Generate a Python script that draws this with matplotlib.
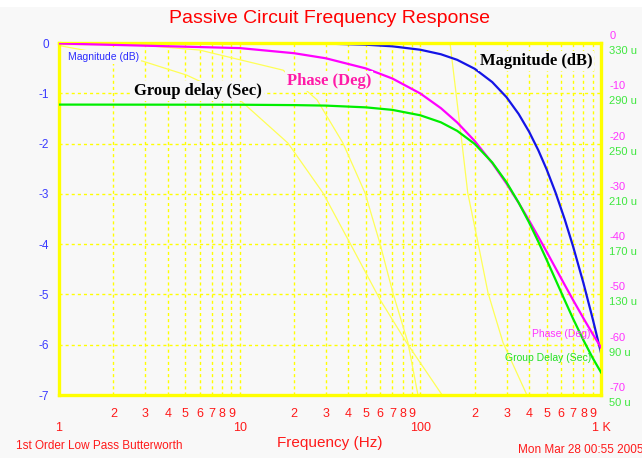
import matplotlib
matplotlib.use('Agg')
import matplotlib.pyplot as plt
import matplotlib.transforms as mtransforms
from matplotlib.patches import Rectangle

# Data (1st order low pass, fc ~ 565 Hz)
freq = [1, 10, 20, 30, 50, 70, 100, 130, 160, 200, 250, 300, 350, 400,
        450, 500, 560, 630, 700, 800, 900, 1000]
magnitude_db = [0.0, -0.001, -0.005, -0.012, -0.034, -0.066, -0.134, -0.224,
                -0.335, -0.513, -0.777, -1.078, -1.411, -1.765, -2.134,
                -2.512, -2.972, -3.509, -4.04, -4.778, -5.488, -6.163]
phase_deg = [-0.1, -1.01, -2.03, -3.04, -5.06, -7.06, -10.04, -12.96, -15.81,
             -19.49, -23.87, -27.97, -31.78, -35.3, -38.54, -41.5, -44.75,
             -48.12, -51.09, -54.76, -57.88, -60.54]
group_delay_us = [281.0, 280.9, 280.6, 280.2, 278.8, 276.8, 272.5, 266.9,
                  260.1, 249.7, 235.0, 219.2, 203.0, 187.2, 171.9, 157.6,
                  141.8, 125.3, 110.8, 93.5, 79.4, 68.0]

# faint yellow traces left on the screen (in dB units)
ghost_a_f = [1, 2.9, 5.1, 10, 18.5, 28.9, 40.8, 60, 84, 132]
ghost_a_db = [-0.05, -0.36, -0.64, -1.13, -1.99, -2.98, -3.98, -5.11, -5.96, -7.0]
ghost_b_f = [1, 3, 6, 17.4, 26.8, 37.3, 49.4, 59.7, 70.5, 85.4, 97]
ghost_b_db = [0.0, -0.05, -0.14, -0.54, -1.13, -1.99, -2.98, -3.98, -4.97, -5.96, -7.0]
ghost_c_f = [146, 157.5, 170, 183, 206, 237, 287, 389]
ghost_c_db = [0.0, -0.99, -1.99, -2.98, -3.88, -4.97, -5.96, -7.0]

# Axis ticks
mag_ticks = [0, -1, -2, -3, -4, -5, -6, -7]
phase_ticks = [0, -10, -20, -30, -40, -50, -60, -70]
delay_ticks = [330, 290, 250, 210, 170, 130, 90, 50]
major_f = [1, 10, 100, 1000]
major_labels = ['1', '10', '100', '1 K']
minor_digits = [2, 3, 4, 5, 6, 7, 8, 9]

bg = '#f8f8f8'
yellow = '#ffff00'
red = '#ff1a1a'
narrow = ['Liberation Sans Narrow', 'Liberation Sans', 'DejaVu Sans']
sans = ['Liberation Sans', 'DejaVu Sans']
serif = ['Liberation Serif', 'DejaVu Serif']

fig = plt.figure(figsize=(6.42, 4.58), dpi=100, facecolor=bg)
fig.patches.append(Rectangle((0, 1 - 7 / 458), 1, 7 / 458, transform=fig.transFigure,
                             facecolor='white', edgecolor='none', zorder=0))
ax = fig.add_axes([59 / 642, 1 - 395 / 458, 542 / 642, 352 / 458])
ax.set_facecolor(bg)
ax.set_xscale('log')
ax.set_xlim(1, 1000)
ax.set_ylim(-7, 0)

# grid
minor_f = [d * m for m in [1, 10, 100] for d in minor_digits]
for f in minor_f + [10, 100]:
    ax.axvline(f, color=yellow, lw=1, ls=(0, (2.2, 2.2)), zorder=1)
for v in mag_ticks[1:-1]:
    ax.axhline(v, color=yellow, lw=1, ls=(0, (2.2, 2.2)), zorder=1)

for gf, gd in [(ghost_a_f, ghost_a_db), (ghost_b_f, ghost_b_db), (ghost_c_f, ghost_c_db)]:
    ax.plot(gf, gd, color='#ffff55', lw=0.9, zorder=1.5)

ax.plot(freq, magnitude_db, color='#1414e6', lw=1.6, zorder=3)

for s in ax.spines.values():
    s.set_color(yellow)
    s.set_linewidth(2.4)
    s.set_zorder(4)

ax.set_yticks(mag_ticks)
ax.set_yticklabels([str(v) for v in mag_ticks], color='#3a3aff', fontsize=8.5, family=narrow)
ax.tick_params(axis='y', length=0, pad=7)

ax.set_xticks(major_f)
ax.set_xticklabels(major_labels, color=red, fontsize=9, family=narrow)
ax.set_xticks(minor_f, minor=True)
ax.set_xticklabels([str(d) for d in minor_digits] * 3, minor=True, color=red,
                   fontsize=9, family=narrow)
ax.tick_params(axis='x', which='major', length=0, pad=19.5)
ax.tick_params(axis='x', which='minor', length=0, pad=9.5)

# phase axis
ax2 = ax.twinx()
ax2.set_ylim(-70, 0)
ax2.plot(freq, phase_deg, color='#ff00ff', lw=1.6, zorder=3)
ax2.set_yticks(phase_ticks)
ax2.set_yticklabels([str(v) for v in phase_ticks], color='#ff33ff', fontsize=8, family=narrow)
ax2.tick_params(axis='y', length=0, pad=6)
up = mtransforms.ScaledTranslation(0, 8 / 100, fig.dpi_scale_trans)
for lab in ax2.get_yticklabels():
    lab.set_transform(lab.get_transform() + up)

# group delay axis
ax3 = ax.twinx()
ax3.set_ylim(50, 330)
ax3.plot(freq, group_delay_us, color='#00ee00', lw=1.6, zorder=3)
ax3.set_yticks(delay_ticks)
ax3.set_yticklabels([f'{v} u' for v in delay_ticks], color='#3fe83f', fontsize=8, family=narrow)
ax3.tick_params(axis='y', length=0, pad=6)
down = mtransforms.ScaledTranslation(0, -7 / 100, fig.dpi_scale_trans)
for lab in ax3.get_yticklabels():
    lab.set_transform(lab.get_transform() + down)

for a in (ax2, ax3):
    for s in a.spines.values():
        s.set_visible(False)

box = dict(facecolor=bg, edgecolor='none', pad=1.5)
ax3.text(0.0166, 0.960, 'Magnitude (dB)', transform=ax.transAxes, ha='left', va='center',
         color='#2b2bff', fontsize=7.5, family=narrow, bbox=box, zorder=6)
ax3.text(0.2565, 0.8636, 'Group delay (Sec)', transform=ax.transAxes, ha='center', va='center',
         color='black', fontsize=12, fontweight='bold', family=serif, bbox=box, zorder=6)
ax3.text(0.498, 0.892, 'Phase (Deg)', transform=ax.transAxes, ha='center', va='center',
         color='#ff1aa8', fontsize=12, fontweight='bold', family=serif, bbox=box, zorder=6)
ax3.text(0.880, 0.949, 'Magnitude (dB)', transform=ax.transAxes, ha='center', va='center',
         color='black', fontsize=12, fontweight='bold', family=serif, bbox=box, zorder=6)
ax3.text(0.9815, 0.1733, 'Phase (Deg)', transform=ax.transAxes, ha='right', va='center',
         color='#ff33ff', fontsize=7.5, family=narrow, zorder=6)
ax3.text(0.9815, 0.105, 'Group Delay (Sec)', transform=ax.transAxes, ha='right', va='center',
         color='#22e022', fontsize=7.5, family=narrow, zorder=6)

fig.text(0.514, 0.96, 'Passive Circuit Frequency Response', ha='center', va='center',
         color='#ff0000', fontsize=14, family=sans)
fig.text(0.514, 0.033, 'Frequency (Hz)', ha='center', va='center', color=red,
         fontsize=11, family=sans)
fig.text(16 / 642, 0.026, '1st Order Low Pass Butterworth', ha='left', va='center',
         color=red, fontsize=8.5, family=narrow)
fig.text(518 / 642, 0.0175, 'Mon Mar 28 00:55 2005', ha='left', va='center',
         color=red, fontsize=8.5, family=narrow)

fig.savefig('out.png', dpi=100, facecolor=bg)
